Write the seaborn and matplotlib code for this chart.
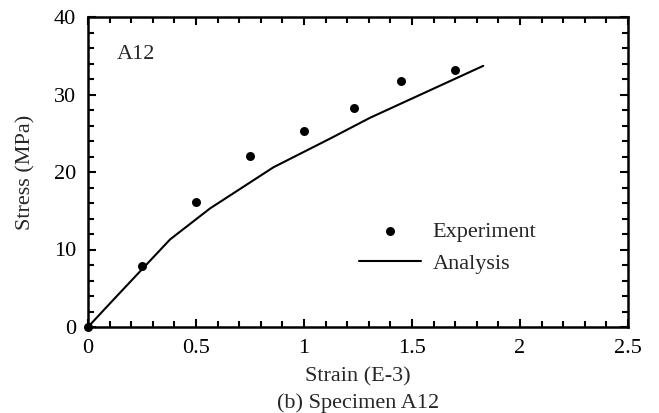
import matplotlib
matplotlib.use("Agg")
import matplotlib.pyplot as plt
import seaborn as sns
import pandas as pd
from matplotlib.ticker import MultipleLocator

exp_strain = [0.0, 0.25, 0.50, 0.75, 1.00, 1.23, 1.45, 1.70]
exp_stress = [0.0, 7.9, 16.1, 22.1, 25.3, 28.3, 31.7, 33.2]

ana_strain = [0.0, 0.117, 0.38, 0.565, 0.858, 1.12, 1.306, 1.83]
ana_stress = [0.0, 3.5, 11.3, 15.3, 20.6, 24.3, 27.0, 33.7]

sns.set_theme(style="white")
plt.rcParams['font.family'] = ['Liberation Serif', 'DejaVu Serif']

FS = 16

fig = plt.figure(figsize=(6.59, 4.13), dpi=100)
ax = fig.add_axes([88/659, 1-327/413, 540/659, 310/413])

exp_df = pd.DataFrame({"strain": exp_strain, "stress": exp_stress})
ana_df = pd.DataFrame({"strain": ana_strain, "stress": ana_stress})

sns.lineplot(data=ana_df, x="strain", y="stress", ax=ax, color="black",
             linewidth=1.5, label="Analysis", sort=False, clip_on=False)
sns.scatterplot(data=exp_df, x="strain", y="stress", ax=ax, color="black",
                s=42, edgecolor="black", linewidth=0, label="Experiment",
                clip_on=False, zorder=5)

ax.set_xlim(0, 2.5)
ax.set_ylim(0, 40)
ax.xaxis.set_minor_locator(MultipleLocator(0.1))
ax.yaxis.set_major_locator(MultipleLocator(10))
ax.yaxis.set_minor_locator(MultipleLocator(2))
ax.set_xticks([0, 0.5, 1, 1.5, 2, 2.5])
ax.set_xticklabels(["0", "0.5", "1", "1.5", "2", "2.5"])
ax.tick_params(which="both", direction="in", top=True, right=True,
               bottom=True, left=True, labelsize=FS, colors="black", width=1.5)
ax.tick_params(which="major", length=6)
ax.tick_params(which="minor", length=4)
ax.tick_params(axis="x", which="major", pad=8.5)
ax.tick_params(axis="y", which="major", pad=8.5)
for sp in ax.spines.values():
    sp.set_linewidth(1.8)
    sp.set_color("black")

ax.set_xlabel("Strain (E-3)", fontsize=FS, labelpad=7)
ax.set_ylabel("Stress (MPa)", fontsize=FS, labelpad=13)
ax.text(0.053, 0.88, "A12", transform=ax.transAxes, fontsize=FS,
        ha="left", va="center")

handles, labels = ax.get_legend_handles_labels()
order = [labels.index("Experiment"), labels.index("Analysis")]
ax.legend([handles[i] for i in order], [labels[i] for i in order],
          frameon=False, fontsize=FS, loc="center left",
          bbox_to_anchor=((359-88)/540, (327-247.5)/310), handlelength=2.8,
          handletextpad=0.5, borderaxespad=0, borderpad=0, labelspacing=0.5)

fig.text(358/659, 1-403/413, "(b) Specimen A12", fontsize=FS,
         ha="center", va="center")

fig.savefig("out.png", dpi=100)
